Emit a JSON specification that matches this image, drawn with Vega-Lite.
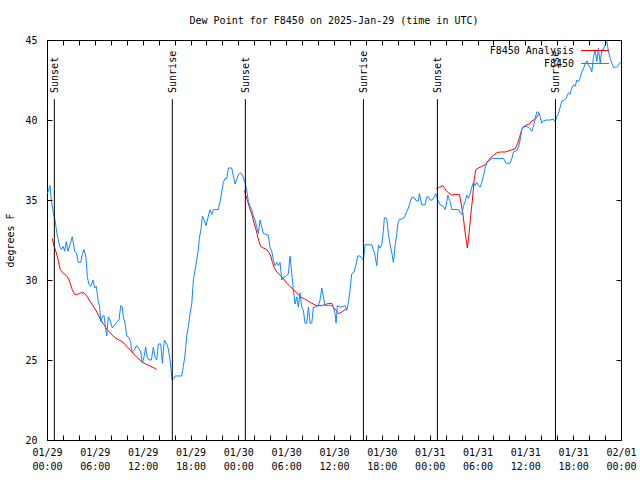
{
  "$schema": "https://vega.github.io/schema/vega-lite/v6.json",
  "width": 574,
  "height": 400,
  "autosize": "none",
  "padding": {"left": 47, "top": 40, "right": 19, "bottom": 40},
  "background": "white",
  "title": {"text": "Dew Point for F8450 on 2025-Jan-29 (time in UTC)", "font": "DejaVu Sans Mono", "fontSize": 10, "fontWeight": "normal", "color": "black", "offset": 9, "anchor": "middle"},
  "config": {"view": {"stroke": "black", "strokeWidth": 1}, "axis": {"ticks": true, "tickOpacity": 1}},
  "datasets": {
    "dew": [
      {"series":"F8450 Analysis","run":1,"hour":0.66,"dewpoint":32.6},{"series":"F8450 Analysis","run":1,"hour":0.79,"dewpoint":32.3},{"series":"F8450 Analysis","run":1,"hour":0.97,"dewpoint":32.0},{"series":"F8450 Analysis","run":1,"hour":1.17,"dewpoint":31.7},{"series":"F8450 Analysis","run":1,"hour":1.38,"dewpoint":31.3},{"series":"F8450 Analysis","run":1,"hour":1.59,"dewpoint":30.8},{"series":"F8450 Analysis","run":1,"hour":1.72,"dewpoint":30.6},{"series":"F8450 Analysis","run":1,"hour":2.13,"dewpoint":30.4},{"series":"F8450 Analysis","run":1,"hour":2.55,"dewpoint":30.2},{"series":"F8450 Analysis","run":1,"hour":2.76,"dewpoint":30.0},{"series":"F8450 Analysis","run":1,"hour":2.97,"dewpoint":29.7},{"series":"F8450 Analysis","run":1,"hour":3.17,"dewpoint":29.4},{"series":"F8450 Analysis","run":1,"hour":3.48,"dewpoint":29.1},{"series":"F8450 Analysis","run":1,"hour":3.80,"dewpoint":29.1},{"series":"F8450 Analysis","run":1,"hour":4.23,"dewpoint":29.2},{"series":"F8450 Analysis","run":1,"hour":4.64,"dewpoint":29.2},{"series":"F8450 Analysis","run":1,"hour":5.06,"dewpoint":28.95},{"series":"F8450 Analysis","run":1,"hour":5.48,"dewpoint":28.6},{"series":"F8450 Analysis","run":1,"hour":5.89,"dewpoint":28.3},{"series":"F8450 Analysis","run":1,"hour":6.31,"dewpoint":27.95},{"series":"F8450 Analysis","run":1,"hour":6.74,"dewpoint":27.5},{"series":"F8450 Analysis","run":1,"hour":7.15,"dewpoint":27.2},{"series":"F8450 Analysis","run":1,"hour":7.56,"dewpoint":26.9},{"series":"F8450 Analysis","run":1,"hour":7.99,"dewpoint":26.65},{"series":"F8450 Analysis","run":1,"hour":8.41,"dewpoint":26.45},{"series":"F8450 Analysis","run":1,"hour":8.82,"dewpoint":26.3},{"series":"F8450 Analysis","run":1,"hour":9.25,"dewpoint":26.2},{"series":"F8450 Analysis","run":1,"hour":9.66,"dewpoint":26.05},{"series":"F8450 Analysis","run":1,"hour":10.08,"dewpoint":25.8},{"series":"F8450 Analysis","run":1,"hour":10.50,"dewpoint":25.6},{"series":"F8450 Analysis","run":1,"hour":10.92,"dewpoint":25.35},{"series":"F8450 Analysis","run":1,"hour":11.33,"dewpoint":25.15},{"series":"F8450 Analysis","run":1,"hour":11.76,"dewpoint":24.95},{"series":"F8450 Analysis","run":1,"hour":12.17,"dewpoint":24.8},{"series":"F8450 Analysis","run":1,"hour":12.58,"dewpoint":24.7},{"series":"F8450 Analysis","run":1,"hour":13.01,"dewpoint":24.6},{"series":"F8450 Analysis","run":1,"hour":13.43,"dewpoint":24.5},{"series":"F8450 Analysis","run":1,"hour":13.76,"dewpoint":24.4},
      {"series":"F8450 Analysis","run":2,"hour":24.76,"dewpoint":35.6},{"series":"F8450 Analysis","run":2,"hour":24.93,"dewpoint":35.3},{"series":"F8450 Analysis","run":2,"hour":25.13,"dewpoint":35.0},{"series":"F8450 Analysis","run":2,"hour":25.35,"dewpoint":34.6},{"series":"F8450 Analysis","run":2,"hour":25.56,"dewpoint":34.3},{"series":"F8450 Analysis","run":2,"hour":25.76,"dewpoint":34.0},{"series":"F8450 Analysis","run":2,"hour":25.97,"dewpoint":33.55},{"series":"F8450 Analysis","run":2,"hour":26.19,"dewpoint":33.2},{"series":"F8450 Analysis","run":2,"hour":26.39,"dewpoint":32.8},{"series":"F8450 Analysis","run":2,"hour":26.60,"dewpoint":32.4},{"series":"F8450 Analysis","run":2,"hour":26.81,"dewpoint":32.1},{"series":"F8450 Analysis","run":2,"hour":27.14,"dewpoint":32.0},{"series":"F8450 Analysis","run":2,"hour":27.57,"dewpoint":31.9},{"series":"F8450 Analysis","run":2,"hour":27.85,"dewpoint":31.7},{"series":"F8450 Analysis","run":2,"hour":28.07,"dewpoint":31.5},{"series":"F8450 Analysis","run":2,"hour":28.27,"dewpoint":31.1},{"series":"F8450 Analysis","run":2,"hour":28.48,"dewpoint":30.8},{"series":"F8450 Analysis","run":2,"hour":28.82,"dewpoint":30.5},{"series":"F8450 Analysis","run":2,"hour":29.23,"dewpoint":30.3},{"series":"F8450 Analysis","run":2,"hour":29.65,"dewpoint":30.1},{"series":"F8450 Analysis","run":2,"hour":30.08,"dewpoint":29.8},{"series":"F8450 Analysis","run":2,"hour":30.49,"dewpoint":29.6},{"series":"F8450 Analysis","run":2,"hour":30.90,"dewpoint":29.4},{"series":"F8450 Analysis","run":2,"hour":31.33,"dewpoint":29.2},{"series":"F8450 Analysis","run":2,"hour":31.74,"dewpoint":28.95},{"series":"F8450 Analysis","run":2,"hour":32.16,"dewpoint":28.85},{"series":"F8450 Analysis","run":2,"hour":32.58,"dewpoint":28.75},{"series":"F8450 Analysis","run":2,"hour":33.00,"dewpoint":28.6},{"series":"F8450 Analysis","run":2,"hour":33.41,"dewpoint":28.5},{"series":"F8450 Analysis","run":2,"hour":33.84,"dewpoint":28.4},{"series":"F8450 Analysis","run":2,"hour":34.47,"dewpoint":28.4},{"series":"F8450 Analysis","run":2,"hour":35.09,"dewpoint":28.5},{"series":"F8450 Analysis","run":2,"hour":35.72,"dewpoint":28.55},{"series":"F8450 Analysis","run":2,"hour":35.92,"dewpoint":28.3},{"series":"F8450 Analysis","run":2,"hour":36.26,"dewpoint":28.1},{"series":"F8450 Analysis","run":2,"hour":36.55,"dewpoint":27.9},{"series":"F8450 Analysis","run":2,"hour":36.98,"dewpoint":28.0},{"series":"F8450 Analysis","run":2,"hour":37.39,"dewpoint":28.15},{"series":"F8450 Analysis","run":2,"hour":37.60,"dewpoint":28.2},
      {"series":"F8450 Analysis","run":3,"hour":48.81,"dewpoint":35.7},{"series":"F8450 Analysis","run":3,"hour":49.22,"dewpoint":35.8},{"series":"F8450 Analysis","run":3,"hour":49.65,"dewpoint":35.9},{"series":"F8450 Analysis","run":3,"hour":50.06,"dewpoint":35.6},{"series":"F8450 Analysis","run":3,"hour":50.35,"dewpoint":35.45},{"series":"F8450 Analysis","run":3,"hour":50.78,"dewpoint":35.3},{"series":"F8450 Analysis","run":3,"hour":51.19,"dewpoint":35.35},{"series":"F8450 Analysis","run":3,"hour":51.73,"dewpoint":35.35},{"series":"F8450 Analysis","run":3,"hour":51.94,"dewpoint":34.8},{"series":"F8450 Analysis","run":3,"hour":52.16,"dewpoint":34.2},{"series":"F8450 Analysis","run":3,"hour":52.36,"dewpoint":33.3},{"series":"F8450 Analysis","run":3,"hour":52.57,"dewpoint":32.5},{"series":"F8450 Analysis","run":3,"hour":52.73,"dewpoint":32.0},{"series":"F8450 Analysis","run":3,"hour":52.94,"dewpoint":32.9},{"series":"F8450 Analysis","run":3,"hour":53.16,"dewpoint":34.1},{"series":"F8450 Analysis","run":3,"hour":53.36,"dewpoint":35.0},{"series":"F8450 Analysis","run":3,"hour":53.58,"dewpoint":36.25},{"series":"F8450 Analysis","run":3,"hour":53.79,"dewpoint":36.9},{"series":"F8450 Analysis","run":3,"hour":54.12,"dewpoint":37.0},{"series":"F8450 Analysis","run":3,"hour":54.54,"dewpoint":37.1},{"series":"F8450 Analysis","run":3,"hour":54.96,"dewpoint":37.2},{"series":"F8450 Analysis","run":3,"hour":55.17,"dewpoint":37.35},{"series":"F8450 Analysis","run":3,"hour":55.58,"dewpoint":37.6},{"series":"F8450 Analysis","run":3,"hour":56.00,"dewpoint":37.8},{"series":"F8450 Analysis","run":3,"hour":56.42,"dewpoint":37.95},{"series":"F8450 Analysis","run":3,"hour":56.84,"dewpoint":38.0},{"series":"F8450 Analysis","run":3,"hour":57.47,"dewpoint":38.0},{"series":"F8450 Analysis","run":3,"hour":58.09,"dewpoint":38.1},{"series":"F8450 Analysis","run":3,"hour":58.72,"dewpoint":38.2},{"series":"F8450 Analysis","run":3,"hour":59.01,"dewpoint":38.5},{"series":"F8450 Analysis","run":3,"hour":59.26,"dewpoint":38.9},{"series":"F8450 Analysis","run":3,"hour":59.56,"dewpoint":39.4},{"series":"F8450 Analysis","run":3,"hour":59.85,"dewpoint":39.6},{"series":"F8450 Analysis","run":3,"hour":60.19,"dewpoint":39.7},{"series":"F8450 Analysis","run":3,"hour":60.51,"dewpoint":39.75},{"series":"F8450 Analysis","run":3,"hour":60.82,"dewpoint":39.95},{"series":"F8450 Analysis","run":3,"hour":61.23,"dewpoint":40.05},{"series":"F8450 Analysis","run":3,"hour":61.52,"dewpoint":40.25},{"series":"F8450 Analysis","run":3,"hour":61.77,"dewpoint":40.4},
      {"series":"F8450","run":0,"hour":0.05,"dewpoint":35.4},{"series":"F8450","run":0,"hour":0.38,"dewpoint":35.9},{"series":"F8450","run":0,"hour":0.54,"dewpoint":35.0},{"series":"F8450","run":0,"hour":0.79,"dewpoint":34.2},{"series":"F8450","run":0,"hour":1.00,"dewpoint":33.75},{"series":"F8450","run":0,"hour":1.22,"dewpoint":33.0},{"series":"F8450","run":0,"hour":1.38,"dewpoint":32.6},{"series":"F8450","run":0,"hour":1.59,"dewpoint":32.1},{"series":"F8450","run":0,"hour":1.79,"dewpoint":31.9},{"series":"F8450","run":0,"hour":2.01,"dewpoint":32.1},{"series":"F8450","run":0,"hour":2.22,"dewpoint":31.8},{"series":"F8450","run":0,"hour":2.42,"dewpoint":32.4},{"series":"F8450","run":0,"hour":2.63,"dewpoint":31.8},{"series":"F8450","run":0,"hour":2.89,"dewpoint":32.2},{"series":"F8450","run":0,"hour":3.17,"dewpoint":32.7},{"series":"F8450","run":0,"hour":3.48,"dewpoint":31.8},{"series":"F8450","run":0,"hour":3.68,"dewpoint":31.7},{"series":"F8450","run":0,"hour":3.93,"dewpoint":31.1},{"series":"F8450","run":0,"hour":4.23,"dewpoint":31.1},{"series":"F8450","run":0,"hour":4.43,"dewpoint":31.6},{"series":"F8450","run":0,"hour":4.64,"dewpoint":31.9},{"series":"F8450","run":0,"hour":4.86,"dewpoint":31.5},{"series":"F8450","run":0,"hour":4.98,"dewpoint":30.8},{"series":"F8450","run":0,"hour":5.06,"dewpoint":30.2},{"series":"F8450","run":0,"hour":5.27,"dewpoint":29.7},{"series":"F8450","run":0,"hour":5.48,"dewpoint":29.6},{"series":"F8450","run":0,"hour":5.77,"dewpoint":30.0},{"series":"F8450","run":0,"hour":5.98,"dewpoint":29.5},{"series":"F8450","run":0,"hour":6.19,"dewpoint":29.6},{"series":"F8450","run":0,"hour":6.40,"dewpoint":28.75},{"series":"F8450","run":0,"hour":6.61,"dewpoint":28.3},{"series":"F8450","run":0,"hour":6.74,"dewpoint":27.4},{"series":"F8450","run":0,"hour":6.94,"dewpoint":27.7},{"series":"F8450","run":0,"hour":7.15,"dewpoint":27.8},{"series":"F8450","run":0,"hour":7.37,"dewpoint":26.9},{"series":"F8450","run":0,"hour":7.49,"dewpoint":26.5},{"series":"F8450","run":0,"hour":7.69,"dewpoint":27.7},{"series":"F8450","run":0,"hour":7.90,"dewpoint":27.5},{"series":"F8450","run":0,"hour":8.19,"dewpoint":27.0},{"series":"F8450","run":0,"hour":8.49,"dewpoint":27.2},{"series":"F8450","run":0,"hour":8.82,"dewpoint":27.4},{"series":"F8450","run":0,"hour":9.03,"dewpoint":27.5},{"series":"F8450","run":0,"hour":9.25,"dewpoint":28.4},{"series":"F8450","run":0,"hour":9.45,"dewpoint":28.3},{"series":"F8450","run":0,"hour":9.57,"dewpoint":27.7},{"series":"F8450","run":0,"hour":9.79,"dewpoint":27.3},{"series":"F8450","run":0,"hour":10.00,"dewpoint":26.5},{"series":"F8450","run":0,"hour":10.29,"dewpoint":26.4},{"series":"F8450","run":0,"hour":10.50,"dewpoint":26.1},{"series":"F8450","run":0,"hour":10.63,"dewpoint":25.5},{"series":"F8450","run":0,"hour":10.92,"dewpoint":25.6},{"series":"F8450","run":0,"hour":11.25,"dewpoint":25.9},{"series":"F8450","run":0,"hour":11.54,"dewpoint":25.7},{"series":"F8450","run":0,"hour":11.76,"dewpoint":25.5},{"series":"F8450","run":0,"hour":11.96,"dewpoint":24.8},{"series":"F8450","run":0,"hour":12.17,"dewpoint":25.2},{"series":"F8450","run":0,"hour":12.38,"dewpoint":25.8},{"series":"F8450","run":0,"hour":12.58,"dewpoint":25.2},{"series":"F8450","run":0,"hour":12.80,"dewpoint":25.0},{"series":"F8450","run":0,"hour":13.09,"dewpoint":25.0},{"series":"F8450","run":0,"hour":13.34,"dewpoint":25.8},{"series":"F8450","run":0,"hour":13.55,"dewpoint":25.2},{"series":"F8450","run":0,"hour":13.76,"dewpoint":25.0},{"series":"F8450","run":0,"hour":13.96,"dewpoint":26.0},{"series":"F8450","run":0,"hour":14.27,"dewpoint":26.0},{"series":"F8450","run":0,"hour":14.47,"dewpoint":24.8},{"series":"F8450","run":0,"hour":14.72,"dewpoint":26.25},{"series":"F8450","run":0,"hour":15.02,"dewpoint":26.0},{"series":"F8450","run":0,"hour":15.22,"dewpoint":25.7},{"series":"F8450","run":0,"hour":15.43,"dewpoint":25.0},{"series":"F8450","run":0,"hour":15.56,"dewpoint":24.4},{"series":"F8450","run":0,"hour":15.68,"dewpoint":23.75},{"series":"F8450","run":0,"hour":15.93,"dewpoint":23.85},{"series":"F8450","run":0,"hour":16.06,"dewpoint":24.0},{"series":"F8450","run":0,"hour":16.90,"dewpoint":24.0},{"series":"F8450","run":0,"hour":17.10,"dewpoint":24.6},{"series":"F8450","run":0,"hour":17.31,"dewpoint":25.3},{"series":"F8450","run":0,"hour":17.53,"dewpoint":26.5},{"series":"F8450","run":0,"hour":17.73,"dewpoint":27.1},{"series":"F8450","run":0,"hour":17.94,"dewpoint":27.9},{"series":"F8450","run":0,"hour":18.16,"dewpoint":28.5},{"series":"F8450","run":0,"hour":18.36,"dewpoint":30.0},{"series":"F8450","run":0,"hour":18.57,"dewpoint":30.6},{"series":"F8450","run":0,"hour":18.78,"dewpoint":31.25},{"series":"F8450","run":0,"hour":18.98,"dewpoint":31.9},{"series":"F8450","run":0,"hour":19.11,"dewpoint":32.6},{"series":"F8450","run":0,"hour":19.32,"dewpoint":33.2},{"series":"F8450","run":0,"hour":19.49,"dewpoint":34.0},{"series":"F8450","run":0,"hour":19.70,"dewpoint":33.75},{"series":"F8450","run":0,"hour":19.95,"dewpoint":33.4},{"series":"F8450","run":0,"hour":20.24,"dewpoint":34.0},{"series":"F8450","run":0,"hour":20.45,"dewpoint":34.4},{"series":"F8450","run":0,"hour":20.66,"dewpoint":34.1},{"series":"F8450","run":0,"hour":20.87,"dewpoint":34.4},{"series":"F8450","run":0,"hour":21.49,"dewpoint":34.4},{"series":"F8450","run":0,"hour":21.71,"dewpoint":34.9},{"series":"F8450","run":0,"hour":21.92,"dewpoint":35.5},{"series":"F8450","run":0,"hour":22.12,"dewpoint":36.1},{"series":"F8450","run":0,"hour":22.33,"dewpoint":36.35},{"series":"F8450","run":0,"hour":22.55,"dewpoint":36.35},{"series":"F8450","run":0,"hour":22.75,"dewpoint":37.0},{"series":"F8450","run":0,"hour":23.17,"dewpoint":37.0},{"series":"F8450","run":0,"hour":23.38,"dewpoint":36.5},{"series":"F8450","run":0,"hour":23.59,"dewpoint":36.0},{"series":"F8450","run":0,"hour":23.80,"dewpoint":36.3},{"series":"F8450","run":0,"hour":24.00,"dewpoint":36.6},{"series":"F8450","run":0,"hour":24.30,"dewpoint":36.7},{"series":"F8450","run":0,"hour":24.55,"dewpoint":36.5},{"series":"F8450","run":0,"hour":24.84,"dewpoint":36.1},{"series":"F8450","run":0,"hour":25.06,"dewpoint":35.6},{"series":"F8450","run":0,"hour":25.26,"dewpoint":34.9},{"series":"F8450","run":0,"hour":25.47,"dewpoint":34.6},{"series":"F8450","run":0,"hour":25.68,"dewpoint":34.4},{"series":"F8450","run":0,"hour":25.88,"dewpoint":34.0},{"series":"F8450","run":0,"hour":26.09,"dewpoint":33.75},{"series":"F8450","run":0,"hour":26.31,"dewpoint":33.3},{"series":"F8450","run":0,"hour":26.51,"dewpoint":32.9},{"series":"F8450","run":0,"hour":26.73,"dewpoint":33.75},{"series":"F8450","run":0,"hour":26.94,"dewpoint":33.3},{"series":"F8450","run":0,"hour":27.14,"dewpoint":32.9},{"series":"F8450","run":0,"hour":27.77,"dewpoint":32.8},{"series":"F8450","run":0,"hour":27.98,"dewpoint":32.0},{"series":"F8450","run":0,"hour":28.19,"dewpoint":31.8},{"series":"F8450","run":0,"hour":28.39,"dewpoint":31.25},{"series":"F8450","run":0,"hour":28.61,"dewpoint":30.9},{"series":"F8450","run":0,"hour":28.82,"dewpoint":31.1},{"series":"F8450","run":0,"hour":29.02,"dewpoint":30.9},{"series":"F8450","run":0,"hour":29.23,"dewpoint":31.1},{"series":"F8450","run":0,"hour":29.45,"dewpoint":30.0},{"series":"F8450","run":0,"hour":29.65,"dewpoint":30.2},{"series":"F8450","run":0,"hour":29.86,"dewpoint":30.2},{"series":"F8450","run":0,"hour":30.28,"dewpoint":30.4},{"series":"F8450","run":0,"hour":30.49,"dewpoint":31.5},{"series":"F8450","run":0,"hour":30.70,"dewpoint":30.4},{"series":"F8450","run":0,"hour":30.90,"dewpoint":29.4},{"series":"F8450","run":0,"hour":31.12,"dewpoint":28.5},{"series":"F8450","run":0,"hour":31.33,"dewpoint":28.95},{"series":"F8450","run":0,"hour":31.53,"dewpoint":28.3},{"series":"F8450","run":0,"hour":31.74,"dewpoint":29.2},{"series":"F8450","run":0,"hour":31.96,"dewpoint":28.3},{"series":"F8450","run":0,"hour":32.16,"dewpoint":28.1},{"series":"F8450","run":0,"hour":32.37,"dewpoint":27.3},{"series":"F8450","run":0,"hour":32.58,"dewpoint":27.3},{"series":"F8450","run":0,"hour":32.79,"dewpoint":28.3},{"series":"F8450","run":0,"hour":33.00,"dewpoint":27.3},{"series":"F8450","run":0,"hour":33.21,"dewpoint":27.3},{"series":"F8450","run":0,"hour":33.41,"dewpoint":28.3},{"series":"F8450","run":0,"hour":33.63,"dewpoint":28.3},{"series":"F8450","run":0,"hour":34.04,"dewpoint":28.4},{"series":"F8450","run":0,"hour":34.25,"dewpoint":28.75},{"series":"F8450","run":0,"hour":34.47,"dewpoint":29.5},{"series":"F8450","run":0,"hour":34.67,"dewpoint":28.95},{"series":"F8450","run":0,"hour":34.88,"dewpoint":28.4},{"series":"F8450","run":0,"hour":35.29,"dewpoint":28.4},{"series":"F8450","run":0,"hour":35.72,"dewpoint":28.4},{"series":"F8450","run":0,"hour":35.92,"dewpoint":28.3},{"series":"F8450","run":0,"hour":36.14,"dewpoint":27.9},{"series":"F8450","run":0,"hour":36.26,"dewpoint":27.3},{"series":"F8450","run":0,"hour":36.42,"dewpoint":28.4},{"series":"F8450","run":0,"hour":36.76,"dewpoint":28.3},{"series":"F8450","run":0,"hour":37.39,"dewpoint":28.4},{"series":"F8450","run":0,"hour":37.60,"dewpoint":28.1},{"series":"F8450","run":0,"hour":37.80,"dewpoint":28.6},{"series":"F8450","run":0,"hour":38.02,"dewpoint":29.4},{"series":"F8450","run":0,"hour":38.23,"dewpoint":30.4},{"series":"F8450","run":0,"hour":38.52,"dewpoint":30.5},{"series":"F8450","run":0,"hour":38.77,"dewpoint":31.0},{"series":"F8450","run":0,"hour":38.98,"dewpoint":31.5},{"series":"F8450","run":0,"hour":39.27,"dewpoint":31.5},{"series":"F8450","run":0,"hour":39.56,"dewpoint":31.35},{"series":"F8450","run":0,"hour":39.69,"dewpoint":31.25},{"series":"F8450","run":0,"hour":39.90,"dewpoint":32.2},{"series":"F8450","run":0,"hour":40.74,"dewpoint":32.2},{"series":"F8450","run":0,"hour":41.07,"dewpoint":31.7},{"series":"F8450","run":0,"hour":41.37,"dewpoint":30.9},{"series":"F8450","run":0,"hour":41.57,"dewpoint":32.2},{"series":"F8450","run":0,"hour":41.78,"dewpoint":32.0},{"series":"F8450","run":0,"hour":41.99,"dewpoint":32.2},{"series":"F8450","run":0,"hour":42.20,"dewpoint":33.1},{"series":"F8450","run":0,"hour":42.32,"dewpoint":33.9},{"series":"F8450","run":0,"hour":42.62,"dewpoint":33.85},{"series":"F8450","run":0,"hour":42.82,"dewpoint":32.9},{"series":"F8450","run":0,"hour":43.04,"dewpoint":32.2},{"series":"F8450","run":0,"hour":43.25,"dewpoint":31.7},{"series":"F8450","run":0,"hour":43.45,"dewpoint":31.1},{"series":"F8450","run":0,"hour":43.66,"dewpoint":32.1},{"series":"F8450","run":0,"hour":43.88,"dewpoint":32.9},{"series":"F8450","run":0,"hour":44.00,"dewpoint":33.5},{"series":"F8450","run":0,"hour":44.20,"dewpoint":33.8},{"series":"F8450","run":0,"hour":44.50,"dewpoint":33.8},{"series":"F8450","run":0,"hour":44.83,"dewpoint":33.9},{"series":"F8450","run":0,"hour":45.13,"dewpoint":34.3},{"series":"F8450","run":0,"hour":45.33,"dewpoint":34.5},{"series":"F8450","run":0,"hour":45.63,"dewpoint":35.0},{"series":"F8450","run":0,"hour":45.83,"dewpoint":35.2},{"series":"F8450","run":0,"hour":46.17,"dewpoint":35.1},{"series":"F8450","run":0,"hour":46.30,"dewpoint":34.95},{"series":"F8450","run":0,"hour":46.59,"dewpoint":34.95},{"series":"F8450","run":0,"hour":46.71,"dewpoint":35.4},{"series":"F8450","run":0,"hour":47.01,"dewpoint":34.7},{"series":"F8450","run":0,"hour":47.43,"dewpoint":34.7},{"series":"F8450","run":0,"hour":47.64,"dewpoint":35.2},{"series":"F8450","run":0,"hour":47.84,"dewpoint":35.2},{"series":"F8450","run":0,"hour":48.06,"dewpoint":35.0},{"series":"F8450","run":0,"hour":48.34,"dewpoint":35.0},{"series":"F8450","run":0,"hour":48.59,"dewpoint":35.2},{"series":"F8450","run":0,"hour":48.77,"dewpoint":35.4},{"series":"F8450","run":0,"hour":49.02,"dewpoint":35.0},{"series":"F8450","run":0,"hour":49.31,"dewpoint":34.7},{"series":"F8450","run":0,"hour":49.72,"dewpoint":34.6},{"series":"F8450","run":0,"hour":49.94,"dewpoint":34.4},{"series":"F8450","run":0,"hour":50.15,"dewpoint":34.9},{"series":"F8450","run":0,"hour":50.28,"dewpoint":35.3},{"series":"F8450","run":0,"hour":50.56,"dewpoint":34.9},{"series":"F8450","run":0,"hour":50.78,"dewpoint":34.4},{"series":"F8450","run":0,"hour":51.61,"dewpoint":34.4},{"series":"F8450","run":0,"hour":51.82,"dewpoint":34.2},{"series":"F8450","run":0,"hour":52.03,"dewpoint":34.1},{"series":"F8450","run":0,"hour":52.23,"dewpoint":34.6},{"series":"F8450","run":0,"hour":52.45,"dewpoint":34.9},{"series":"F8450","run":0,"hour":52.66,"dewpoint":35.3},{"series":"F8450","run":0,"hour":52.86,"dewpoint":35.1},{"series":"F8450","run":0,"hour":53.07,"dewpoint":35.4},{"series":"F8450","run":0,"hour":53.29,"dewpoint":35.8},{"series":"F8450","run":0,"hour":53.49,"dewpoint":36.1},{"series":"F8450","run":0,"hour":53.70,"dewpoint":35.9},{"series":"F8450","run":0,"hour":53.91,"dewpoint":36.1},{"series":"F8450","run":0,"hour":54.12,"dewpoint":35.9},{"series":"F8450","run":0,"hour":54.33,"dewpoint":35.8},{"series":"F8450","run":0,"hour":54.54,"dewpoint":36.1},{"series":"F8450","run":0,"hour":54.74,"dewpoint":36.5},{"series":"F8450","run":0,"hour":54.96,"dewpoint":37.0},{"series":"F8450","run":0,"hour":55.17,"dewpoint":37.3},{"series":"F8450","run":0,"hour":55.37,"dewpoint":37.45},{"series":"F8450","run":0,"hour":55.58,"dewpoint":37.5},{"series":"F8450","run":0,"hour":55.80,"dewpoint":37.6},{"series":"F8450","run":0,"hour":57.25,"dewpoint":37.6},{"series":"F8450","run":0,"hour":57.59,"dewpoint":37.3},{"series":"F8450","run":0,"hour":58.09,"dewpoint":37.3},{"series":"F8450","run":0,"hour":58.31,"dewpoint":37.6},{"series":"F8450","run":0,"hour":58.51,"dewpoint":38.0},{"series":"F8450","run":0,"hour":58.93,"dewpoint":38.1},{"series":"F8450","run":0,"hour":59.14,"dewpoint":38.3},{"series":"F8450","run":0,"hour":59.35,"dewpoint":38.75},{"series":"F8450","run":0,"hour":59.56,"dewpoint":39.4},{"series":"F8450","run":0,"hour":59.76,"dewpoint":39.6},{"series":"F8450","run":0,"hour":60.19,"dewpoint":39.6},{"series":"F8450","run":0,"hour":60.51,"dewpoint":39.5},{"series":"F8450","run":0,"hour":60.82,"dewpoint":39.3},{"series":"F8450","run":0,"hour":61.02,"dewpoint":39.6},{"series":"F8450","run":0,"hour":61.23,"dewpoint":40.1},{"series":"F8450","run":0,"hour":61.44,"dewpoint":40.5},{"series":"F8450","run":0,"hour":61.64,"dewpoint":40.5},{"series":"F8450","run":0,"hour":61.86,"dewpoint":40.2},{"series":"F8450","run":0,"hour":62.07,"dewpoint":39.8},{"series":"F8450","run":0,"hour":62.27,"dewpoint":39.95},{"series":"F8450","run":0,"hour":62.70,"dewpoint":40.0},{"series":"F8450","run":0,"hour":63.11,"dewpoint":40.0},{"series":"F8450","run":0,"hour":63.53,"dewpoint":40.05},{"series":"F8450","run":0,"hour":63.74,"dewpoint":39.9},{"series":"F8450","run":0,"hour":63.95,"dewpoint":40.2},{"series":"F8450","run":0,"hour":64.15,"dewpoint":40.4},{"series":"F8450","run":0,"hour":64.37,"dewpoint":40.8},{"series":"F8450","run":0,"hour":64.58,"dewpoint":41.2},{"series":"F8450","run":0,"hour":64.87,"dewpoint":41.25},{"series":"F8450","run":0,"hour":65.12,"dewpoint":41.35},{"series":"F8450","run":0,"hour":65.41,"dewpoint":41.7},{"series":"F8450","run":0,"hour":65.62,"dewpoint":41.6},{"series":"F8450","run":0,"hour":65.83,"dewpoint":42.0},{"series":"F8450","run":0,"hour":66.04,"dewpoint":42.2},{"series":"F8450","run":0,"hour":66.25,"dewpoint":42.1},{"series":"F8450","run":0,"hour":66.46,"dewpoint":42.5},{"series":"F8450","run":0,"hour":66.66,"dewpoint":42.4},{"series":"F8450","run":0,"hour":66.88,"dewpoint":42.65},{"series":"F8450","run":0,"hour":67.09,"dewpoint":43.0},{"series":"F8450","run":0,"hour":67.29,"dewpoint":43.2},{"series":"F8450","run":0,"hour":67.50,"dewpoint":43.5},{"series":"F8450","run":0,"hour":67.72,"dewpoint":43.7},{"series":"F8450","run":0,"hour":67.92,"dewpoint":43.4},{"series":"F8450","run":0,"hour":68.13,"dewpoint":43.3},{"series":"F8450","run":0,"hour":68.34,"dewpoint":43.0},{"series":"F8450","run":0,"hour":68.54,"dewpoint":43.9},{"series":"F8450","run":0,"hour":68.76,"dewpoint":44.4},{"series":"F8450","run":0,"hour":68.97,"dewpoint":43.65},{"series":"F8450","run":0,"hour":69.17,"dewpoint":44.5},{"series":"F8450","run":0,"hour":69.39,"dewpoint":43.55},{"series":"F8450","run":0,"hour":69.60,"dewpoint":44.4},{"series":"F8450","run":0,"hour":69.80,"dewpoint":44.4},{"series":"F8450","run":0,"hour":70.01,"dewpoint":44.7},{"series":"F8450","run":0,"hour":70.23,"dewpoint":44.9},{"series":"F8450","run":0,"hour":70.43,"dewpoint":44.3},{"series":"F8450","run":0,"hour":70.64,"dewpoint":43.85},{"series":"F8450","run":0,"hour":70.85,"dewpoint":43.55},{"series":"F8450","run":0,"hour":71.05,"dewpoint":43.3},{"series":"F8450","run":0,"hour":71.48,"dewpoint":43.3},{"series":"F8450","run":0,"hour":71.68,"dewpoint":43.4},{"series":"F8450","run":0,"hour":71.81,"dewpoint":43.55},{"series":"F8450","run":0,"hour":72.0,"dewpoint":43.6}
    ],
    "sun": [
      {"hour":0.92,"event":"Sunset"},{"hour":15.72,"event":"Sunrise"},{"hour":24.88,"event":"Sunset"},{"hour":39.69,"event":"Sunrise"},{"hour":48.97,"event":"Sunset"},{"hour":63.78,"event":"Sunrise"}
    ]
  },
  "layer": [
    {
      "data": {"name": "dew"},
      "transform": [{"filter": "datum.series == 'F8450 Analysis'"}],
      "mark": {"type": "line", "strokeWidth": 1},
      "encoding": {
        "x": {"field": "hour", "type": "quantitative", "scale": {"domain": [0, 72], "nice": false, "zero": false},
          "axis": {"orient": "bottom", "offset": -5, "title": null, "values": [0,2,4,6,8,10,12,14,16,18,20,22,24,26,28,30,32,34,36,38,40,42,44,46,48,50,52,54,56,58,60,62,64,66,68,70,72],
            "labelExpr": "datum.value % 6 == 0 ? [datum.value == 72 ? '02/01' : '01/' + (29 + floor(datum.value / 24)), (datum.value % 24 < 10 ? '0' : '') + (datum.value % 24) + ':00'] : ''",
            "ticks": true, "tickSize": 5, "labelPadding": 7, "labelFont": "DejaVu Sans Mono", "labelFontSize": 10, "labelLineHeight": 14, "labelBaseline": "top", "labelColor": "black",
            "labelOverlap": false, "labelFlush": false, "labelBound": false, "domain": false, "grid": false, "tickColor": "black", "tickWidth": 1, "zindex": 2}},
        "y": {"field": "dewpoint", "type": "quantitative", "scale": {"domain": [20, 45], "nice": false, "zero": false},
          "axis": {"orient": "left", "offset": -5, "title": "degrees F", "values": [20,25,30,35,40,45], "ticks": true, "tickSize": 5, "labelPadding": 10,
            "labelFont": "DejaVu Sans Mono", "labelFontSize": 10, "labelColor": "black", "domain": false, "grid": false, "tickColor": "black", "tickWidth": 1, "zindex": 2,
            "titleFont": "DejaVu Sans Mono", "titleFontSize": 10, "titleFontWeight": "normal", "titleColor": "black", "titlePadding": 9}},
        "detail": {"field": "run", "type": "nominal"},
        "color": {"field": "series", "type": "nominal",
          "scale": {"domain": ["F8450 Analysis", "F8450"], "range": ["#ff0000", "#0f87ff"]},
          "legend": {"orient": "none", "legendX": 527, "legendY": 5, "title": null, "symbolType": "M-2.8,0H2.8", "symbolSize": 100, "symbolStrokeWidth": 1,
            "labelFont": "DejaVu Sans Mono", "labelFontSize": 10, "labelColor": "black", "padding": 0, "rowPadding": 2, "labelLimit": 300,
            "encode": {"symbols": {"update": {"x": {"value": 21}}}, "labels": {"update": {"x": {"value": 0}, "align": {"value": "right"}}}}}}
      }
    },
    {
      "data": {"name": "dew"},
      "transform": [{"filter": "datum.series == 'F8450'"}],
      "mark": {"type": "line", "strokeWidth": 1},
      "encoding": {
        "x": {"field": "hour", "type": "quantitative", "axis": null},
        "y": {"field": "dewpoint", "type": "quantitative", "axis": null},
        "color": {"field": "series", "type": "nominal"}
      }
    },
    {
      "data": {"name": "sun"},
      "mark": {"type": "rule", "color": "black", "strokeWidth": 1},
      "encoding": {
        "x": {"field": "hour", "type": "quantitative",
          "axis": {"orient": "top", "offset": -5, "title": null, "labels": false, "values": [0,2,4,6,8,10,12,14,16,18,20,22,24,26,28,30,32,34,36,38,40,42,44,46,48,50,52,54,56,58,60,62,64,66,68,70,72],
            "ticks": true, "tickSize": 5, "domain": false, "grid": false, "tickColor": "black", "tickWidth": 1, "zindex": 2}},
        "y": {"datum": 20, "type": "quantitative",
          "axis": {"orient": "right", "offset": -5, "title": null, "labels": false, "values": [20,25,30,35,40,45], "ticks": true, "tickSize": 5, "domain": false, "grid": false, "tickColor": "black", "tickWidth": 1, "zindex": 2}},
        "y2": {"datum": 41.3}
      }
    },
    {
      "data": {"name": "sun"},
      "mark": {"type": "text", "angle": 270, "align": "left", "baseline": "middle", "dy": 1, "font": "DejaVu Sans Mono", "fontSize": 10, "color": "black"},
      "encoding": {
        "x": {"field": "hour", "type": "quantitative", "axis": null},
        "y": {"datum": 41.69, "type": "quantitative", "axis": null},
        "text": {"field": "event"}
      }
    }
  ],
  "resolve": {"axis": {"x": "independent", "y": "independent"}}
}
